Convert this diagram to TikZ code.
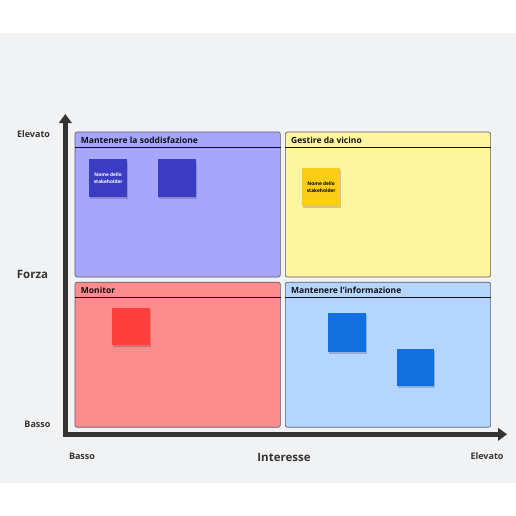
\documentclass[tikz,border=0pt]{standalone}
\usepackage{fontspec}
\setmainfont{Open Sans}
\usetikzlibrary{arrows.meta}
\definecolor{bgc}{HTML}{F1F2F4}
\definecolor{axisc}{HTML}{333333}
\definecolor{qborder}{HTML}{5A5A66}
\definecolor{purpleq}{HTML}{A6A6FD}
\definecolor{purples}{HTML}{3A3DC2}
\definecolor{yellowq}{HTML}{FFF59E}
\definecolor{yellows}{HTML}{FACE14}
\definecolor{redq}{HTML}{FF8C8C}
\definecolor{reds}{HTML}{FF3E3E}
\definecolor{blueq}{HTML}{B4D5FF}
\definecolor{blues}{HTML}{1070E0}
\definecolor{titlec}{HTML}{111111}
\tikzset{
  quad/.style={draw=qborder, line width=0.6pt, rounded corners=2pt, anchor=north west, inner sep=0pt, minimum width=205.3pt, minimum height=145pt},
  qtitle/.style={anchor=west, font=\bfseries\fontsize{8.5}{9}\selectfont, text=titlec, inner sep=0pt},
  sticky/.style={anchor=north west, inner sep=0pt, minimum width=38pt, minimum height=38pt, align=center, font=\bfseries\fontsize{4.8}{6.6}\selectfont},
  shadowc/.style={fill=black, opacity=0.18},
  axlabel/.style={font=\bfseries\fontsize{9}{10}\selectfont, text=axisc, inner sep=0pt},
  bigaxlabel/.style={font=\bfseries\fontsize{11.5}{12}\selectfont, text=axisc, inner sep=0pt},
}
\begin{document}
\begin{tikzpicture}[x=1pt,y=-1pt]
\useasboundingbox (0,0) rectangle (516,516);
\fill[white] (0,0) rectangle (516,516);
\fill[bgc] (0,33) rectangle (515.5,483);

% quadrants
\node[quad, fill=purpleq] (tl) at (74.7,131.7) {};
\node[quad, fill=yellowq] (tr) at (285,131.7) {};
\node[quad, fill=redq] (bl) at (74.7,281.9) {};
\node[quad, fill=blueq] (br) at (285,281.9) {};

\foreach \q in {tl,tr,bl,br}{
  \draw[line width=0.7pt, titlec] ([yshift=-15.6pt]\q.north west) -- ([yshift=-15.6pt]\q.north east);
}
\node[qtitle] (tlt) at ([xshift=6pt,yshift=-8.6pt]tl.north west) {Mantenere la soddisfazione};
\node[qtitle] (trt) at ([xshift=6pt,yshift=-8.6pt]tr.north west) {Gestire da vicino};
\node[qtitle] (blt) at ([xshift=6pt,yshift=-8.6pt]bl.north west) {Monitor};
\node[qtitle] (brt) at ([xshift=6pt,yshift=-8.6pt]br.north west) {Mantenere l'informazione};

% sticky shadows
\fill[shadowc] (90,161) rectangle (127.5,198.5);
\fill[shadowc] (159,161) rectangle (196.5,198.5);
\fill[shadowc] (303,170) rectangle (340.5,207.5);
\fill[shadowc] (113,310) rectangle (150.5,346.5);
\fill[shadowc] (329,315) rectangle (366.5,353.5);
\fill[shadowc] (398,351) rectangle (434.5,387.5);

% stickies
\node[sticky, fill=purples, text=white] (s1) at (89,159) {Nome dello\\stakeholder};
\node[sticky, fill=purples] (s2) at (158,159) {};
\node[sticky, fill=yellows, text=black] (s3) at (302,168) {Nome dello\\stakeholder};
\node[sticky, fill=reds, minimum height=37pt] (s4) at (112,308) {};
\node[sticky, fill=blues, minimum height=39pt] (s5) at (328,313) {};
\node[sticky, fill=blues, minimum width=37pt, minimum height=37pt] (s6) at (397,349) {};

% axes
\coordinate (ytop) at (65.3,114);
\coordinate (origin) at (65.3,434.3);
\coordinate (xend) at (507,434.3);
\draw[axisc, line width=5pt, miter limit=10,
  {Triangle[length=9pt,width=12.5pt]}-{Triangle[length=9pt,width=12.5pt]}]
  (ytop) -- (origin) -- (xend);

% axis labels
\node[axlabel] (ye) at (33.5,134) {Elevato};
\node[bigaxlabel] (yf) at (32.5,274) {Forza};
\node[axlabel] (yb) at (37.5,424.5) {Basso};
\node[axlabel] (xb) at (82,456) {Basso};
\node[bigaxlabel] (xi) at (284,457.5) {Interesse};
\node[axlabel] (xe) at (487,456) {Elevato};
\end{tikzpicture}
\end{document}
